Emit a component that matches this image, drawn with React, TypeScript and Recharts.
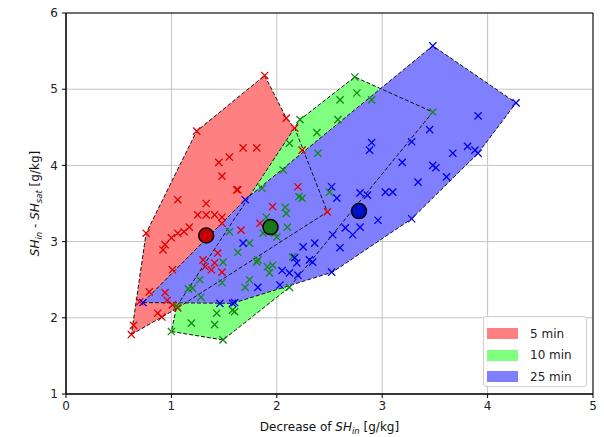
import { CartesianGrid, ReferenceArea, Scatter, ScatterChart, XAxis, YAxis } from 'recharts';

const xTicks = [0, 1, 2, 3, 4, 5];
const yTicks = [1, 2, 3, 4, 5, 6];

const groupLabels = ['5 min', '10 min', '25 min'];
const fillColors = ['#ff8080', '#80ff80', '#8080ff'];
const markerColors = ['#e00000', '#128a12', '#0000ee'];
const meanColors = ['#c40000', '#187818', '#0010c8'];

// measured points, [decrease of SH_in, SH_in - SH_sat]
const points5 = [
  [1.885, 5.18], [2.09, 4.62], [2.17, 4.49], [2.24, 4.2], [1.24, 4.45], [1.68, 4.23], [1.81, 4.23],
  [1.55, 4.11], [1.45, 4.04], [1.48, 3.86], [1.63, 3.68], [1.06, 3.55], [1.33, 3.5], [1.25, 3.35],
  [1.33, 3.35], [1.41, 3.35], [1.48, 3.32], [1.48, 3.24], [1.17, 3.19], [1.12, 3.13], [1.06, 3.11],
  [1.0, 3.05], [0.94, 2.96], [0.92, 2.89], [0.76, 3.11], [1.01, 2.63], [1.3, 2.76], [1.32, 2.67],
  [1.38, 2.63], [1.44, 2.85], [1.41, 2.72], [1.48, 2.6], [0.79, 2.34], [0.7, 2.21], [0.94, 2.33],
  [0.96, 2.23], [1.01, 2.17], [1.06, 2.13], [0.87, 2.06], [0.91, 2.01], [0.64, 1.9], [0.62, 1.78],
  [1.96, 3.46], [1.84, 3.24], [1.66, 3.15], [2.48, 3.39], [2.2, 3.72], [1.62, 3.68],
];
const points10 = [
  [2.74, 5.16], [2.76, 4.95], [2.6, 4.86], [2.9, 4.86], [2.58, 4.6], [2.38, 4.43], [2.22, 4.6],
  [2.12, 4.29], [2.39, 4.16], [2.06, 3.94], [3.48, 4.7], [2.21, 3.59], [1.86, 3.7], [1.9, 3.32],
  [2.09, 3.37], [1.87, 3.11], [2.0, 3.06], [1.63, 2.86], [1.74, 2.98], [1.81, 2.73], [1.91, 2.67],
  [1.74, 2.5], [1.48, 2.46], [1.27, 2.5], [1.2, 2.39], [1.28, 2.27], [1.6, 2.08], [1.43, 2.06],
  [1.19, 1.93], [1.41, 1.91], [1.0, 1.82], [1.49, 1.71], [1.55, 3.13], [1.58, 2.1], [1.49, 2.73],
  [1.16, 2.38], [2.24, 3.57], [2.08, 3.45], [2.1, 3.19], [1.98, 3.11], [1.82, 2.76], [1.96, 2.69],
  [1.7, 2.4], [1.93, 2.59], [2.15, 2.8], [2.5, 3.65], [2.12, 2.4], [1.05, 2.15],
];
const points25 = [
  [3.48, 5.57], [4.27, 4.82], [3.91, 4.65], [3.45, 4.47], [3.28, 4.31], [2.9, 4.3], [2.88, 4.2],
  [3.81, 4.25], [3.88, 4.2], [3.91, 4.16], [3.67, 4.16], [3.19, 4.04], [3.48, 4.0], [3.51, 3.97],
  [3.61, 3.85], [3.34, 3.78], [2.52, 3.72], [2.79, 3.64], [2.86, 3.61], [3.03, 3.65], [3.1, 3.65],
  [2.57, 3.57], [2.96, 3.28], [3.28, 3.3], [2.79, 3.19], [2.65, 3.18], [2.72, 3.09], [2.53, 3.09],
  [2.36, 2.98], [2.25, 2.93], [2.6, 2.92], [2.34, 2.73], [2.19, 2.72], [2.2, 2.56], [2.52, 2.6],
  [2.17, 2.79], [2.31, 2.76], [2.12, 2.59], [2.03, 2.43], [1.82, 2.4], [1.68, 2.98], [1.6, 2.2],
  [1.46, 2.19], [1.58, 2.19], [0.73, 2.2], [1.7, 3.55], [2.05, 2.62],
];

// convex hull vertices of each group
const hull5 = [
  [0.62, 1.78], [1.06, 2.13], [2.48, 3.39], [2.17, 4.49], [2.09, 4.62], [1.885, 5.18], [1.24, 4.45], [0.76, 3.11],
];
const hull10 = [
  [1.0, 1.82], [1.49, 1.71], [2.12, 2.4], [3.48, 4.7], [2.74, 5.16], [2.22, 4.6], [1.05, 2.15],
];
const hull25 = [
  [0.73, 2.2], [1.58, 2.19], [2.53, 2.6], [3.28, 3.3], [3.91, 4.16], [4.27, 4.82], [3.48, 5.57], [1.7, 3.55],
];

const means = [
  [1.33, 3.08],
  [1.94, 3.19],
  [2.78, 3.4],
];

const groups = [points5, points10, points25];
const hulls = [hull5, hull10, hull25];

const toPoints = (arr: number[][]) => arr.map(([x, y]) => ({ x, y }));

const FONT = '"DejaVu Sans", sans-serif';

const polygonLine = (fill: string, stroke: string) => (props: any) => {
  const pts: { x: number; y: number }[] = props.points || [];
  if (!pts.length) return <g />;
  const d = pts.map((p, i) => `${i ? 'L' : 'M'}${p.x},${p.y}`).join('') + 'Z';
  return (
    <path
      d={d}
      fill={fill}
      stroke={stroke}
      strokeWidth={1}
      strokeDasharray={stroke === 'none' ? undefined : '4 2'}
    />
  );
};

const crossShape = (color: string) => (props: any) => {
  const { cx, cy } = props;
  const s = 3.6;
  return (
    <path
      d={`M${cx - s},${cy - s}L${cx + s},${cy + s}M${cx - s},${cy + s}L${cx + s},${cy - s}`}
      stroke={color}
      strokeWidth={1.3}
      fill="none"
    />
  );
};

const meanShape = (color: string) => (props: any) => (
  <circle cx={props.cx} cy={props.cy} r={7.5} fill={color} stroke="#000" strokeWidth={1.5} />
);

const XLabel = (props: any) => {
  const { viewBox } = props;
  const x = viewBox.x + viewBox.width / 2;
  const y = viewBox.y + 37;
  return (
    <text x={x} y={y} textAnchor="middle" fontSize={12} fontFamily={FONT} fill="#111">
      Decrease of <tspan fontStyle="italic">SH</tspan>
      <tspan fontSize={8.5} dy={3} fontStyle="italic">in</tspan>
      <tspan dy={-3}> [g/kg]</tspan>
    </text>
  );
};

const YLabel = (props: any) => {
  const { viewBox } = props;
  const x = 39;
  const y = viewBox.y + viewBox.height / 2;
  return (
    <text
      x={x}
      y={y}
      transform={`rotate(-90, ${x}, ${y})`}
      textAnchor="middle"
      fontSize={12}
      fontFamily={FONT}
      fill="#111"
    >
      <tspan fontStyle="italic">SH</tspan>
      <tspan fontSize={8.5} dy={3} fontStyle="italic">in</tspan>
      <tspan dy={-3}> - </tspan>
      <tspan fontStyle="italic">SH</tspan>
      <tspan fontSize={8.5} dy={3} fontStyle="italic">sat</tspan>
      <tspan dy={-3}> [g/kg]</tspan>
    </text>
  );
};

export default function App() {
  return (
    <div style={{ position: 'absolute', left: 0, top: 0, width: 604, height: 437, background: '#fff', fontFamily: FONT }}>
      <ScatterChart width={604} height={437} margin={{ top: 13, right: 11, bottom: 0, left: 0 }}>
        <CartesianGrid stroke="#c4c4c4" strokeWidth={1} />
        <XAxis
          type="number"
          dataKey="x"
          domain={[0, 5]}
          ticks={xTicks}
          allowDataOverflow
          height={43}
          tickSize={4}
          tickMargin={3}
          tick={{ fontSize: 12, fill: '#222', fontFamily: FONT }}
          axisLine={{ stroke: '#000' }}
          tickLine={{ stroke: '#000' }}
          label={<XLabel />}
        />
        <YAxis
          type="number"
          dataKey="y"
          domain={[1, 6]}
          ticks={yTicks}
          allowDataOverflow
          width={66}
          tickSize={4}
          tickMargin={4}
          tick={{ fontSize: 12, fill: '#222', fontFamily: FONT }}
          axisLine={{ stroke: '#000' }}
          tickLine={{ stroke: '#000' }}
          label={<YLabel />}
        />
        {hulls.map((h, i) => (
          <Scatter
            key={`fill-${i}`}
            data={toPoints(h)}
            line={polygonLine(fillColors[i], 'none')}
            shape={() => <g />}
            isAnimationActive={false}
          />
        ))}
        {hulls.map((h, i) => (
          <Scatter
            key={`edge-${i}`}
            data={toPoints(h)}
            line={polygonLine('none', '#111')}
            shape={() => <g />}
            isAnimationActive={false}
          />
        ))}
        {groups.map((g, i) => (
          <Scatter
            key={`pts-${i}`}
            name={groupLabels[i]}
            data={toPoints(g)}
            shape={crossShape(markerColors[i])}
            isAnimationActive={false}
          />
        ))}
        {means.map((m, i) => (
          <Scatter
            key={`mean-${i}`}
            data={toPoints([m])}
            shape={meanShape(meanColors[i])}
            isAnimationActive={false}
          />
        ))}
        <ReferenceArea x1={0} x2={5} y1={1} y2={6} fill="none" stroke="#000" strokeWidth={1} />
      </ScatterChart>
      <div
        style={{
          position: 'absolute',
          left: 483,
          top: 316,
          width: 104,
          height: 71,
          border: '1px solid #d0d0d0',
          borderRadius: 3,
          background: 'rgba(255,255,255,0.85)',
          boxSizing: 'border-box',
          paddingTop: 6,
        }}
      >
        {groupLabels.map((label, i) => (
          <div key={label} style={{ display: 'flex', alignItems: 'center', height: 21.5 }}>
            <div style={{ width: 31, height: 11, background: fillColors[i], marginLeft: 3, marginRight: 12 }} />
            <span style={{ fontSize: 12, color: '#222' }}>{label}</span>
          </div>
        ))}
      </div>
    </div>
  );
}
